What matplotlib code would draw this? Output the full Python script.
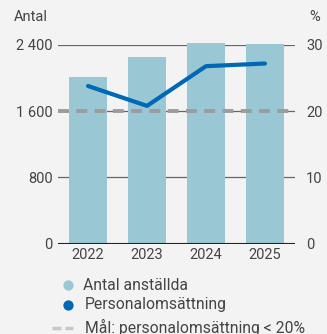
import numpy as np
import matplotlib.pyplot as plt

plt.rcParams['font.family'] = ['Roboto', 'DejaVu Sans']

years = ['2022', '2023', '2024', '2025']
antal = [2010, 2255, 2425, 2412]
oms = [23.8, 20.8, 26.8, 27.2]
mal = 20

bg = '#f3f3f3'
bar_col = '#99c7d3'
line_col = '#0068b4'
grey = '#9c9c9c'
txt = '#444444'

fig = plt.figure(figsize=(3.27, 3.34), dpi=100, facecolor=bg)
ax = fig.add_axes([58/327, 1-243.5/334, 237/327, 198.5/334])
ax.set_facecolor(bg)
x = np.arange(len(years))

for y in [800, 1600, 2400]:
    ax.axhline(y, color='#666666', lw=0.9, zorder=1)
ax.axhline(0, color='#222222', lw=1.5, zorder=4)
ax.bar(x, antal, width=0.64, color=bar_col, zorder=2, clip_on=False)
ax.set_xlim(-0.51, 3.51)
ax.set_ylim(0, 2400)
ax.set_yticks([0, 800, 1600, 2400])
ax.set_yticklabels(['0', '800', '1 600', '2 400'])
ax.set_xticks(x)
ax.set_xticklabels(years)
for s in ax.spines.values():
    s.set_visible(False)
ax.tick_params(axis='both', length=0, labelsize=10.5, labelcolor=txt, pad=3)
ax.tick_params(axis='y', pad=4)

ax2 = ax.twinx()
ax2.set_ylim(0, 30)
ax2.set_yticks([0, 10, 20, 30])
for s in ax2.spines.values():
    s.set_visible(False)
ax2.tick_params(axis='y', length=0, labelsize=10.5, labelcolor=txt, pad=8)
ax2.axhline(mal, color=grey, lw=2.8, dashes=(2.8, 1.9), zorder=3)
ax2.plot(x, oms, color=line_col, lw=3, solid_capstyle='round', zorder=5)

fig.text(14/327, 1-17/334, 'Antal', fontsize=10.5, color=txt, va='center')
fig.text(315/327, 1-17/334, '%', fontsize=10.5, color=txt, va='center', ha='center')

# legend drawn in pixel space
lax = fig.add_axes([0, 0, 1, 1])
lax.set_xlim(0, 327)
lax.set_ylim(334, 0)
lax.axis('off')
lax.scatter([68], [285], s=55, color=bar_col, lw=0)
lax.scatter([68], [305], s=55, color=line_col, lw=0)
lax.plot([52, 73], [328, 328], color='#c8c8c8', lw=2.5, dashes=(2.6, 1.15))
lax.text(83, 285, 'Antal anställda', fontsize=11.3, color=txt, va='center')
lax.text(85, 305, 'Personalomsättning', fontsize=11.3, color=txt, va='center')
lax.text(85, 327, 'Mål: personalomsättning < 20%', fontsize=11.3, color=txt, va='center')

fig.savefig('out.png', dpi=100, facecolor=bg)
